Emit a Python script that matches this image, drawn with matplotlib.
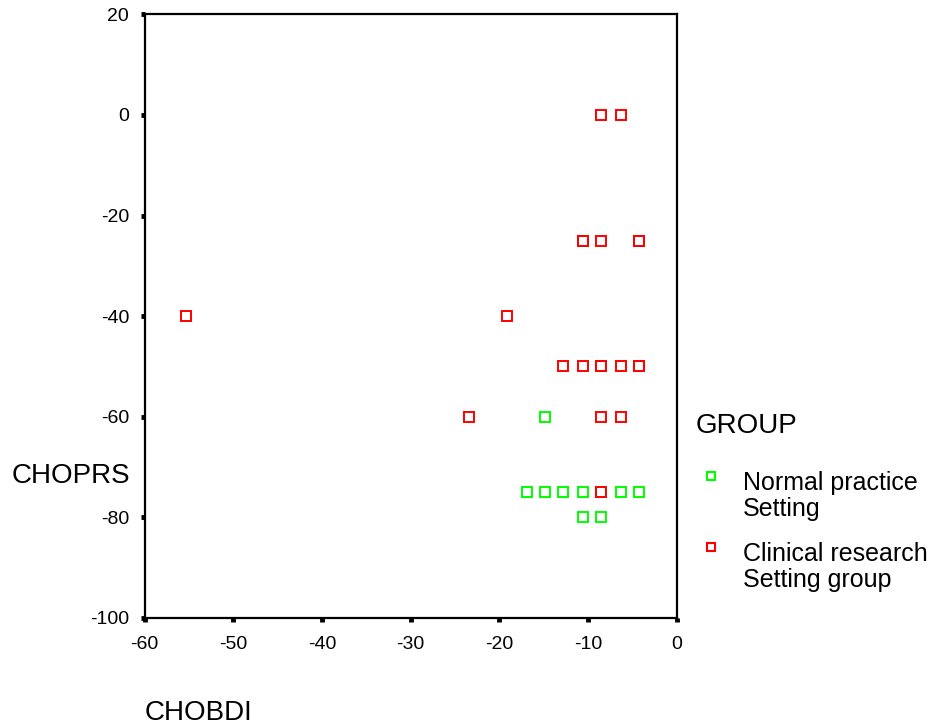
import matplotlib
matplotlib.use("Agg")
import matplotlib.pyplot as plt
from matplotlib.lines import Line2D

plt.rcParams['font.family'] = ['Liberation Sans', 'DejaVu Sans']
plt.rcParams['axes.unicode_minus'] = False

# group 1: Normal practice setting
normal_x = [-14.8, -16.9, -14.8, -12.8, -10.5, -8.5, -6.3, -4.2, -10.5, -8.5]
normal_y = [-60, -75, -75, -75, -75, -75, -75, -75, -80, -80]

# group 2: Clinical research setting
clinical_x = [-8.5, -6.3, -10.5, -10.5, -8.5, -4.2, -4.2, -55.3, -19.1,
              -12.8, -10.5, -8.5, -8.5, -6.3, -4.2, -4.2, -23.4, -8.5, -6.3, -8.5]
clinical_y = [0, 0, -25, -25, -25, -25, -25, -40, -40,
              -50, -50, -50, -50, -50, -50, -50, -60, -60, -60, -75]

group_labels = ['Normal practice\nSetting', 'Clinical research\nSetting group']
group_colors = ['#00ff00', '#ff0000']

x_ticks = [-60, -50, -40, -30, -20, -10, 0]
y_ticks = [-100, -80, -60, -40, -20, 0, 20]

fig = plt.figure(figsize=(9.36, 7.25), dpi=100)
ax = fig.add_axes([0.1544, 0.1476, 0.5684, 0.8327])

mk = dict(marker='s', linestyle='none', markersize=6.5,
          markerfacecolor='none', markeredgewidth=1.4)
ax.plot(normal_x, normal_y, color=group_colors[0], **mk)
ax.plot(clinical_x, clinical_y, color=group_colors[1], **mk)

ax.set_xlim(-60, 0)
ax.set_ylim(-100, 20)
ax.set_xticks(x_ticks)
ax.set_yticks(y_ticks)
for s in ax.spines.values():
    s.set_linewidth(1.6)
ax.tick_params(direction='out', length=3, width=3.5, labelsize=14)
ax.tick_params(axis='x', pad=10)
ax.tick_params(axis='y', pad=8)

fig.text(12 / 936, 1 - 476 / 725, 'CHOPRS', fontsize=20, ha='left', va='center')
fig.text(145 / 936, 1 - 713 / 725, 'CHOBDI', fontsize=20, ha='left', va='center')

# legend
fig.text(696 / 936, 1 - 426 / 725, 'GROUP', fontsize=20, ha='left', va='center')
leg_y = [476, 547]
for lab, col, yy in zip(group_labels, group_colors, leg_y):
    fig.add_artist(Line2D([711 / 936], [1 - yy / 725], transform=fig.transFigure,
                          marker='s', markersize=5.5, markerfacecolor='none',
                          markeredgewidth=1.5, color=col, linestyle='none'))
    fig.text(743 / 936, 1 - (yy - 5) / 725, lab, fontsize=18, ha='left', va='top',
             linespacing=1.08)

fig.savefig('out.png', dpi=100)
